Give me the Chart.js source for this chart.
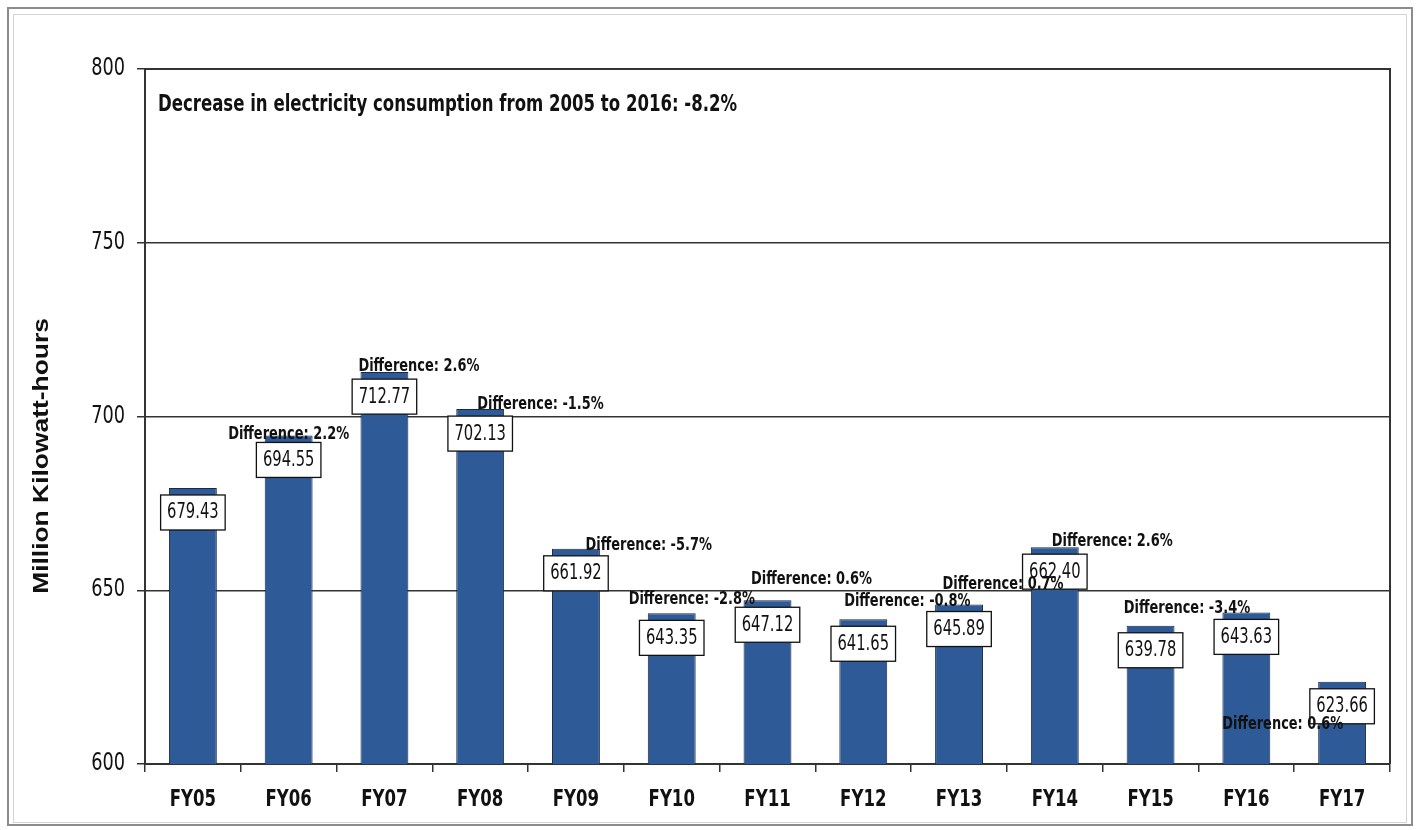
<!DOCTYPE html>
<html>
<head>
<meta charset="utf-8">
<script src="https://cdn.jsdelivr.net/npm/chart.js@4.4.0/dist/chart.umd.min.js"></script>
<style>
  html, body { margin: 0; padding: 0; background: #fff; }
  canvas { display: block; }
</style>
</head>
<body>
<canvas id="energyChart" width="1418" height="830"></canvas>
<script>
// Chart data
const categories = ['FY05', 'FY06', 'FY07', 'FY08', 'FY09', 'FY10', 'FY11', 'FY12', 'FY13', 'FY14', 'FY15', 'FY16', 'FY17'];
const consumption = [679.43, 694.55, 712.77, 702.13, 661.92, 643.35, 647.12, 641.65, 645.89, 662.40, 639.78, 643.63, 623.66];
const yTickValues = [600, 650, 700, 750, 800];
const noteText = 'Decrease in electricity consumption from 2005 to 2016: -8.2%';
const yTitle = 'Million Kilowatt-hours';

// "Difference" labels, anchored in data units (category index, kWh)
const diffText = ['Difference: 2.2%', 'Difference: 2.6%', 'Difference: -1.5%', 'Difference: -5.7%', 'Difference: -2.8%',
    'Difference: 0.6%', 'Difference: -0.8%', 'Difference: 0.7%', 'Difference: 2.6%', 'Difference: -3.4%', 'Difference: 0.6%'];
const diffAtIndex = [1.0, 2.36, 3.63, 4.76, 5.21, 6.46, 7.46, 8.46, 9.60, 10.38, 11.38];
const diffAtValue = [694.8, 714.4, 703.4, 662.9, 647.4, 653.2, 646.8, 651.7, 664.1, 644.8, 611.5];

const NARROW = '"DejaVu Sans Condensed", "Liberation Sans", sans-serif';

// draw text squeezed horizontally (the source uses a narrow font)
function drawText(ctx, txt, x, y, font, sx, align) {
    ctx.save();
    ctx.font = font;
    ctx.translate(x, y);
    ctx.scale(sx, 1);
    ctx.textAlign = align || 'center';
    ctx.textBaseline = 'middle';
    ctx.fillStyle = '#111';
    ctx.fillText(txt, 0, 0);
    ctx.restore();
}

// Page frame + white background
const framePlugin = {
    id: 'frame',
    beforeDraw(chart) {
        const ctx = chart.ctx;
        ctx.save();
        ctx.fillStyle = '#fff';
        ctx.fillRect(0, 0, chart.width, chart.height);
        ctx.strokeStyle = '#8c8c8c';
        ctx.lineWidth = 2;
        ctx.strokeRect(8, 8, 1404, 817);
        ctx.strokeStyle = '#d4d4d4';
        ctx.lineWidth = 1;
        ctx.strokeRect(13.5, 14.5, 1393, 808);
        ctx.restore();
    }
};

// Plot border, tick labels, value boxes, difference labels, note and axis title
const overlayPlugin = {
    id: 'overlay',
    afterDatasetsDraw(chart) {
        const ctx = chart.ctx;
        const area = chart.chartArea;
        const x = chart.scales.x;
        const y = chart.scales.y;
        ctx.save();

        // plot area border (top / right)
        ctx.strokeStyle = '#333';
        ctx.lineWidth = 2;
        ctx.beginPath();
        ctx.moveTo(area.left, area.top);
        ctx.lineTo(area.right, area.top);
        ctx.lineTo(area.right, area.bottom);
        ctx.stroke();

        // axis tick labels
        yTickValues.forEach(v => {
            drawText(ctx, String(v), 125, y.getPixelForValue(v), '24px ' + NARROW, 0.82, 'right');
        });
        categories.forEach((c, i) => {
            drawText(ctx, c, x.getPixelForValue(i), 800, 'bold 23px ' + NARROW, 0.8, 'center');
        });

        // value boxes
        const boxFont = '21px ' + NARROW;
        ctx.font = boxFont;
        consumption.forEach((v, i) => {
            const cx = x.getPixelForValue(i);
            const top = y.getPixelForValue(v) + 7;
            const txt = v.toFixed(2);
            const w = ctx.measureText(txt).width * 0.78 + 13;
            ctx.fillStyle = '#fff';
            ctx.fillRect(cx - w / 2, top, w, 35);
            ctx.strokeStyle = '#111';
            ctx.lineWidth = 1.3;
            ctx.strokeRect(cx - w / 2, top, w, 35);
            drawText(ctx, txt, cx, top + 18, boxFont, 0.78, 'center');
            ctx.font = boxFont;
        });

        // difference labels
        const step = x.getPixelForValue(1) - x.getPixelForValue(0);
        diffText.forEach((t, i) => {
            const px = x.getPixelForValue(0) + diffAtIndex[i] * step;
            const py = y.getPixelForValue(diffAtValue[i]);
            drawText(ctx, t, px, py, 'bold 18px ' + NARROW, 0.8, 'center');
        });

        // note inside plot
        drawText(ctx, noteText, 158, 105, 'bold 23px ' + NARROW, 0.8, 'left');

        // y axis title
        ctx.translate(42, 456);
        ctx.rotate(-Math.PI / 2);
        drawText(ctx, yTitle, 0, 0, 'bold 22px "Liberation Sans", Arial, sans-serif', 1.2, 'center');
        ctx.restore();
    }
};

const ctx = document.getElementById('energyChart').getContext('2d');
const energyChart = new Chart(ctx, {
    type: 'bar',
    data: {
        labels: categories,
        datasets: [{
            label: 'Electricity consumption',
            data: consumption,
            backgroundColor: '#2e5b98',
            borderColor: '#1b2a44',
            borderWidth: 1,
            barPercentage: 0.5,
            categoryPercentage: 1.0
        }]
    },
    options: {
        responsive: false,
        animation: false,
        devicePixelRatio: 1,
        layout: { padding: { top: 69, right: 28, left: 0, bottom: 0 } },
        plugins: {
            legend: { display: false },
            tooltip: { enabled: false },
            title: { display: false }
        },
        scales: {
            x: {
                grid: { drawOnChartArea: false, drawTicks: true, tickLength: 8, color: '#333', lineWidth: 1.5 },
                border: { display: true, color: '#333', width: 2 },
                ticks: { color: 'rgba(0,0,0,0)', font: { size: 20 } },
                afterFit(scale) { scale.height = 66; }
            },
            y: {
                min: 600,
                max: 800,
                afterBuildTicks(scale) { scale.ticks = yTickValues.map(v => ({ value: v })); },
                grid: { color: '#333', lineWidth: 1.5, drawTicks: true, tickLength: 8 },
                border: { display: true, color: '#333', width: 2 },
                ticks: { color: 'rgba(0,0,0,0)', font: { size: 20 } },
                afterFit(scale) { scale.width = 145; }
            }
        }
    },
    plugins: [framePlugin, overlayPlugin]
});
</script>
</body>
</html>
